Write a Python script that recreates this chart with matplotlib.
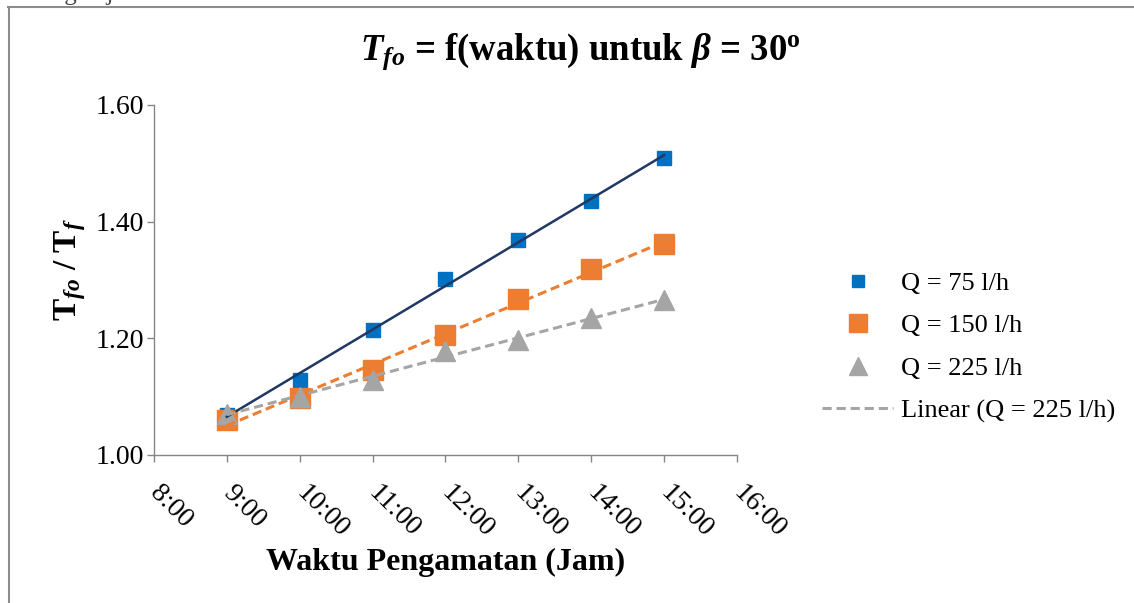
import matplotlib
matplotlib.use('Agg')
import matplotlib.pyplot as plt
import numpy as np
from matplotlib.lines import Line2D
import matplotlib.transforms as mtransforms

# data
hours = [9, 10, 11, 12, 13, 14, 15]
q75 = [1.069, 1.128, 1.215, 1.302, 1.369, 1.436, 1.510]
q150 = [1.060, 1.097, 1.146, 1.205, 1.267, 1.319, 1.362]
q225 = [1.071, 1.099, 1.129, 1.179, 1.198, 1.235, 1.265]
xticks = [8, 9, 10, 11, 12, 13, 14, 15, 16]
xlabels = ['%d:00' % h for h in xticks]
yticks = [1.00, 1.20, 1.40, 1.60]

plt.rcParams['font.family'] = 'Liberation Serif'
plt.rcParams['mathtext.fontset'] = 'custom'
plt.rcParams['mathtext.rm'] = 'Liberation Serif'
plt.rcParams['mathtext.it'] = 'Liberation Serif:italic'
plt.rcParams['mathtext.bf'] = 'Liberation Serif:bold'
plt.rcParams['mathtext.bfit'] = 'Liberation Serif:italic:bold'

W, H = 1134, 603
fig = plt.figure(figsize=(W / 100, H / 100), dpi=100)
ax = fig.add_axes([154 / W, 1 - 455 / H, 583 / W, 350 / H])

axis_col = '#868686'
blue, orange, grey, navy = '#0070C0', '#ED7D31', '#A5A5A5', '#1F3864'

# markers
ax.plot(hours, q75, linestyle='none', marker='s', markersize=10, color=blue, label='Q = 75 l/h', zorder=3)
ax.plot(hours, q150, linestyle='none', marker='s', markersize=14, color=orange, label='Q = 150 l/h', zorder=3)
ax.plot(hours, q225, linestyle='none', marker='^', markersize=14, color=grey, label='Q = 225 l/h', zorder=3)

# linear trend lines
xs = np.array([hours[0], hours[-1]])
p = np.polyfit(hours, q75, 1)
ax.plot(xs, np.polyval(p, xs), color=navy, lw=1.8, zorder=4, label='_nolegend_')
p = np.polyfit(hours, q150, 1)
ax.plot(xs, np.polyval(p, xs), color=orange, lw=2.2, dashes=(3, 1.6), zorder=4, label='_nolegend_')
p = np.polyfit(hours, q225, 1)
ax.plot(xs, np.polyval(p, xs), color=grey, lw=2.2, dashes=(3, 1.6), zorder=4, label='Linear (Q = 225 l/h)')

ax.set_xlim(8, 16)
ax.set_ylim(1.0, 1.6)
ax.set_yticks(yticks)
ax.set_yticklabels(['%.2f' % v for v in yticks], fontsize=20)
ax.set_xticks(xticks)
ax.set_xticklabels(xlabels, fontsize=20, rotation=-45, ha='left', va='center', rotation_mode='anchor')
offset = mtransforms.ScaledTranslation(0.02, 0, fig.dpi_scale_trans)
for lab in ax.get_xticklabels():
    lab.set_transform(lab.get_transform() + offset)

for s in ['top', 'right']:
    ax.spines[s].set_visible(False)
for s in ['left', 'bottom']:
    ax.spines[s].set_color(axis_col)
    ax.spines[s].set_linewidth(1)
ax.tick_params(axis='x', direction='out', length=5, width=1, color=axis_col, pad=20)
ax.tick_params(axis='y', direction='out', length=5, width=1, color=axis_col, pad=2)

ax.set_xlabel('Waktu Pengamatan (Jam)', fontsize=23, fontweight='bold')
ax.xaxis.set_label_coords(0.5, -0.306)
ax.xaxis.label.set_va('center')
ax.set_ylabel(r'$\mathbf{T}_{\mathbfit{fo}}$ / $\mathbf{T}_{\mathbfit{f}}$', fontsize=24, fontweight='bold')
ax.yaxis.set_label_coords(-0.144, 0.53)
ax.yaxis.label.set_va('center')

fig.text(580 / W, 1 - 52 / H,
         r'$\mathbfit{T}_{\mathbfit{fo}}$ = f(waktu) untuk $\mathbfit{\beta}$ = 30$^{\mathbf{o}}$',
         fontsize=26.5, fontweight='bold', ha='center', va='center')

ax.legend(loc='center left', bbox_to_anchor=(822 / W, 1 - 347 / H), bbox_transform=fig.transFigure,
          frameon=False, fontsize=19, handlelength=2.7, handletextpad=0.3,
          labelspacing=0.72, borderpad=0, borderaxespad=0, markerscale=0.9)

# chart frame (cut off at right and bottom) and clipped text above it
fig.add_artist(Line2D([8.5 / W, 8.5 / W], [0, 1 - 7 / H], transform=fig.transFigure, color='#8c8c8c', lw=1.5))
fig.add_artist(Line2D([8 / W, 1], [1 - 7 / H, 1 - 7 / H], transform=fig.transFigure, color='#8c8c8c', lw=1.5))
fig.text(28 / W, 1.0, 'dengan jarak', fontsize=18, color='#444444', va='baseline')

fig.savefig('out.png', dpi=100)
